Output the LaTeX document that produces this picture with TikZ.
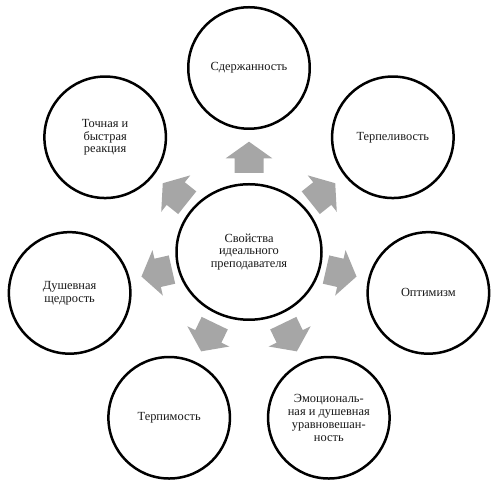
\documentclass[tikz,border=0pt]{standalone}
\usepackage{fontspec}
\setmainfont{Liberation Serif}
\usetikzlibrary{shapes.geometric,calc}
\definecolor{arrowgray}{RGB}{166,166,166}
\definecolor{textgray}{RGB}{25,25,25}
\tikzset{
  item/.style={circle,draw=black,line width=2.5pt,fill=white,minimum size=121.5pt,inner sep=0pt,
    align=center,text=textgray,font=\fontsize{12.4}{12.8}\selectfont},
  hub/.style={ellipse,draw=black,line width=2.5pt,fill=white,minimum width=145pt,minimum height=135.5pt,inner sep=0pt,
    align=center,text=textgray,font=\fontsize{12.4}{12.8}\selectfont},
  blockarrow/.style={fill=arrowgray,draw=none}
}
\begin{document}
\begin{tikzpicture}[x=1pt,y=1pt]
\useasboundingbox (0,0) rectangle (499,492);
\coordinate (c) at (249,240);
% block arrows pointing outward
\foreach \a in {90,38.571,-12.857,-64.286,-115.714,-167.143,141.429}{
  \fill[blockarrow,shift={(c)},rotate=\a]
    (79,-14.5) -- (93.7,-14.5) -- (93.7,-23.3) -- (110.3,0) -- (93.7,23.3) -- (93.7,14.5) -- (79,14.5) -- cycle;
}
\node[hub] (hub) at (c) {Свойства\\идеального\\преподавателя};
\node[item] (s1) at ($(c)+(90:184)$) {Сдержанность};
\node[item] (s2) at ($(c)+(38.571:184)$) {Терпеливость};
\node[item] (s3) at ($(c)+(-12.857:184)$) {Оптимизм};
\node[item] (s4) at ($(c)+(-64.286:184)$) {Эмоциональ-\\ная и душевная\\уравновешан-\\ность};
\node[item] (s5) at ($(c)+(-115.714:184)$) {Терпимость};
\node[item] (s6) at ($(c)+(-167.143:184)$) {Душевная\\щедрость};
\node[item] (s7) at ($(c)+(141.429:184)$) {Точная и\\быстрая\\реакция};
\end{tikzpicture}
\end{document}
